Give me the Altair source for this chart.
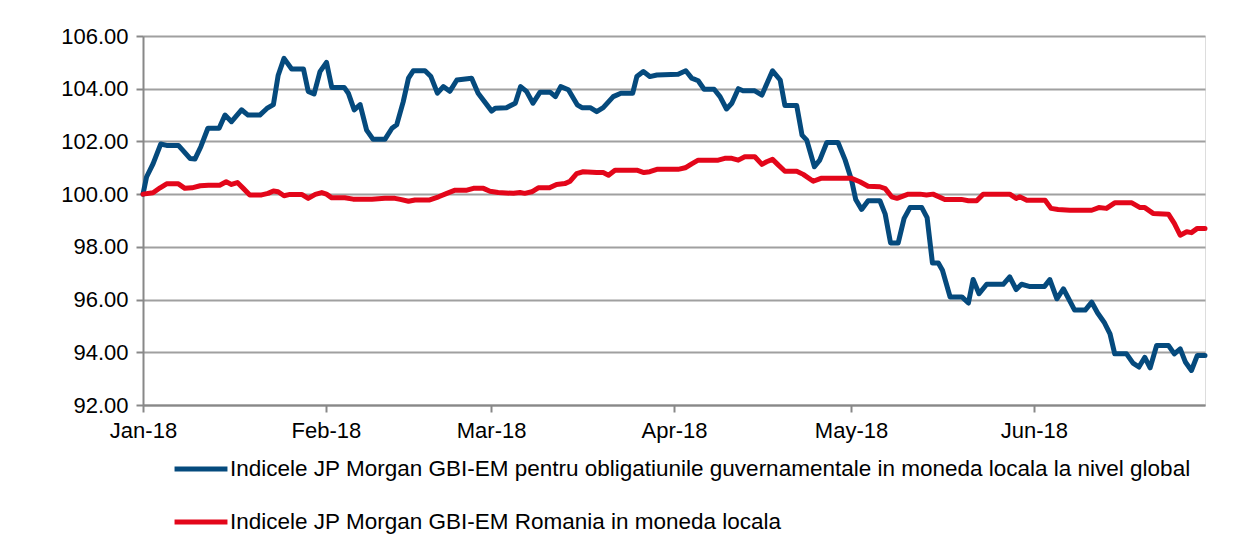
import altair as alt
import pandas as pd

# Day offsets from 2018-01-01 and index values
blue_days = [0, 0.6, 1.7, 3.0, 4.0, 6.0, 6.8, 8.0, 8.8, 9.8, 11.0, 12.9, 13.9, 15.0, 16.7, 17.8, 19.8,
             21.0, 22.1, 22.9, 23.9, 25.2, 27.2, 28.0, 29.0, 30.0, 31.1, 32.0, 34.1, 34.8, 35.8, 36.8,
             37.9, 39.0, 41.0, 42.2, 43.0, 44.1, 45.0, 45.8, 47.8, 48.8, 49.9, 50.9, 52.0, 53.2, 55.7,
             56.8, 59.1, 59.7, 61.6, 63.1, 64.0, 65.0, 66.1, 67.3, 69.0, 69.9, 70.8, 72.1, 73.6, 74.4,
             75.8, 76.9, 78.0, 79.7, 81.0, 83.0, 83.7, 84.8, 85.9, 87.1, 90.7, 92.0, 93.0, 94.1, 95.1,
             96.8, 97.8, 98.9, 99.8, 100.9, 101.7, 103.7, 104.9, 105.9, 106.7, 108.0, 108.8, 110.8,
             111.7, 112.5, 113.8, 114.7, 115.9, 117.8, 119.0, 120.1, 120.8, 121.8, 122.9, 124.9, 125.8,
             126.7, 128.0, 129.0, 130.0, 132.0, 132.9, 133.8, 134.8, 135.5, 136.8, 138.8, 139.9, 140.7,
             141.7, 143.0, 145.8, 146.9, 148.0, 148.9, 150.2, 152.8, 153.7, 154.9, 156.0, 157.9, 159.7,
             160.8, 161.8, 162.9, 163.9, 164.7, 166.7, 167.8, 168.8, 169.8, 170.7, 171.8, 173.8, 174.8,
             175.8, 176.7, 177.7, 178.7, 180.0]
blue_vals = [100.0, 100.65, 101.15, 101.9, 101.85, 101.85, 101.65, 101.35, 101.33, 101.8, 102.5, 102.5,
             103.0, 102.75, 103.2, 103.0, 103.0, 103.25, 103.4, 104.5, 105.15, 104.75, 104.75, 103.9,
             103.8, 104.65, 105.0, 104.05, 104.05, 103.83, 103.2, 103.4, 102.43, 102.08, 102.08, 102.5,
             102.63, 103.5, 104.4, 104.68, 104.68, 104.46, 103.83, 104.08, 103.9, 104.33, 104.4, 103.83,
             103.15, 103.26, 103.28, 103.45, 104.08, 103.9, 103.45, 103.87, 103.87, 103.7, 104.08, 103.96,
             103.39, 103.28, 103.28, 103.13, 103.28, 103.7, 103.83, 103.83, 104.46, 104.65, 104.46,
             104.52, 104.55, 104.68, 104.4, 104.3, 103.98, 103.98, 103.7, 103.23, 103.45, 104.0, 103.92,
             103.92, 103.76, 104.27, 104.68, 104.33, 103.36, 103.36, 102.24, 102.05, 101.04, 101.29,
             101.96, 101.96, 101.3, 100.53, 99.8, 99.42, 99.75, 99.75, 99.24, 98.15, 98.15, 99.08, 99.49,
             99.49, 99.11, 97.39, 97.39, 97.11, 96.1, 96.1, 95.87, 96.76, 96.22, 96.58, 96.58, 96.86,
             96.38, 96.58, 96.5, 96.5, 96.76, 96.03, 96.41, 95.6, 95.6, 95.9, 95.49, 95.14, 94.7, 93.94,
             93.94, 93.59, 93.44, 93.81, 93.41, 94.26, 94.26, 93.94, 94.13, 93.62, 93.31, 93.88, 93.88]

red_days = [0, 1.7, 2.9, 4.0, 6.0, 7.1, 8.3, 9.7, 11.1, 13.0, 14.1, 15.0, 16.0, 17.0, 18.1, 20.1, 21.2,
            22.1, 22.9, 23.9, 24.9, 26.9, 28.0, 29.2, 30.3, 31.1, 32.0, 34.2, 35.6, 38.8, 41.0, 42.7,
            43.6, 45.0, 46.1, 48.6, 50.1, 51.5, 52.9, 54.9, 56.0, 57.7, 58.8, 60.2, 62.8, 63.9, 64.7,
            65.9, 67.0, 68.9, 70.1, 71.5, 72.4, 73.5, 74.6, 76.9, 78.0, 78.9, 80.0, 83.7, 84.9, 85.9,
            87.1, 90.7, 91.9, 93.0, 94.1, 97.5, 98.6, 99.8, 100.9, 102.0, 103.7, 104.9, 105.7, 106.7,
            107.7, 108.8, 110.8, 111.9, 113.6, 114.9, 117.8, 120.1, 121.5, 122.9, 124.9, 125.8, 126.9,
            127.8, 129.7, 131.7, 132.8, 133.9, 135.9, 138.7, 139.9, 141.3, 142.4, 146.9, 148.0, 148.6,
            149.8, 152.9, 153.9, 155.1, 157.1, 160.8, 162.0, 163.3, 164.7, 167.6, 169.0, 169.8, 171.2,
            173.8, 174.8, 175.8, 176.9, 177.7, 178.7, 180.0]
red_vals = [100.0, 100.05, 100.24, 100.39, 100.39, 100.22, 100.24, 100.32, 100.34, 100.34, 100.47, 100.37,
            100.44, 100.22, 99.97, 99.97, 100.03, 100.12, 100.09, 99.94, 99.99, 99.99, 99.84, 99.99,
            100.06, 100.0, 99.86, 99.86, 99.81, 99.81, 99.84, 99.84, 99.8, 99.73, 99.78, 99.78, 99.9,
            100.03, 100.15, 100.15, 100.22, 100.22, 100.11, 100.06, 100.03, 100.06, 100.03, 100.09,
            100.24, 100.24, 100.37, 100.4, 100.49, 100.78, 100.85, 100.82, 100.82, 100.72, 100.91,
            100.91, 100.82, 100.85, 100.94, 100.94, 101.0, 101.15, 101.29, 101.29, 101.36, 101.36,
            101.29, 101.42, 101.42, 101.13, 101.23, 101.32, 101.1, 100.87, 100.87, 100.75, 100.49,
            100.6, 100.6, 100.6, 100.47, 100.3, 100.28, 100.21, 99.9, 99.84, 100.0, 100.0, 99.97, 100.0,
            99.8, 99.8, 99.75, 99.75, 100.0, 100.0, 99.84, 99.9, 99.77, 99.77, 99.46, 99.42, 99.39,
            99.39, 99.49, 99.46, 99.67, 99.67, 99.49, 99.49, 99.27, 99.24, 98.89, 98.44, 98.57, 98.54,
            98.7, 98.7]

series_names = [
    "Indicele JP Morgan GBI-EM pentru obligatiunile guvernamentale in moneda locala la nivel global",
    "Indicele JP Morgan GBI-EM Romania in moneda locala",
]
series_colors = ["#054a7d", "#e3061a"]
y_ticks = [92, 94, 96, 98, 100, 102, 104, 106]

start = pd.Timestamp("2018-01-01T00:00:00")


def to_dates(days):
    return [(start + pd.to_timedelta(d, unit="D")).strftime("%Y-%m-%dT%H:%M:%S") for d in days]


df = pd.concat([
    pd.DataFrame({"date": to_dates(blue_days), "value": blue_vals, "series": series_names[0], "order": 0}),
    pd.DataFrame({"date": to_dates(red_days), "value": red_vals, "series": series_names[1], "order": 1}),
])

FONT = "Liberation Sans"
FS = 22
month_ticks = [alt.DateTime(year=2018, month=m, date=1) for m in range(1, 7)]

chart = alt.Chart(df).mark_line(strokeWidth=5, strokeJoin="round", strokeCap="round").encode(
    x=alt.X("date:T",
            scale=alt.Scale(domain=[alt.DateTime(year=2018, month=1, date=1),
                                    alt.DateTime(year=2018, month=6, date=30)]),
            axis=alt.Axis(values=month_ticks, format="%b-%y", title=None, grid=False,
                          labelFontSize=FS, labelFont=FONT, labelColor="#000000",
                          tickColor="#888888", tickSize=7, tickWidth=2,
                          domainColor="#888888", domainWidth=2, labelPadding=8,
                          labelAlign="center")),
    y=alt.Y("value:Q",
            scale=alt.Scale(domain=[92, 106], nice=False, zero=False),
            axis=alt.Axis(values=y_ticks, format=".2f", title=None, grid=True,
                          gridColor="#a0a0a0", gridWidth=2,
                          labelFontSize=FS, labelFont=FONT, labelColor="#000000",
                          tickColor="#888888", tickSize=7, tickWidth=2,
                          domainColor="#888888", domainWidth=2, labelPadding=8)),
    color=alt.Color("series:N",
                    scale=alt.Scale(domain=series_names, range=series_colors),
                    legend=alt.Legend(title=None, orient="none", legendX=29, legendY=404,
                                      direction="vertical", symbolType="stroke",
                                      symbolStrokeWidth=5, symbolSize=2800,
                                      labelFontSize=22.5, labelFont=FONT, labelColor="#000000",
                                      rowPadding=12, labelOffset=0, labelLimit=1200)),
    order="order:Q",
    detail="series:N",
).properties(
    width=1062, height=369,
    autosize=alt.AutoSizeParams(type="none"),
    padding={"left": 135, "top": 28, "right": 20, "bottom": 140},
).configure_view(stroke=None).configure(background="white")

chart.save("out.html", embed_options={"renderer": "svg", "actions": False})
